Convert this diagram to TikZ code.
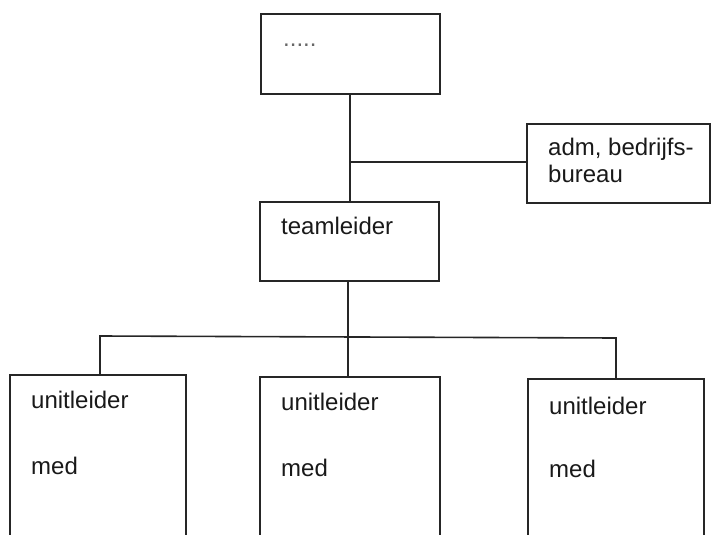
\documentclass[tikz,border=0pt]{standalone}
\usepackage{fontspec}
\setmainfont{Liberation Sans}
\begin{document}
\begin{tikzpicture}[x=1pt,y=-1pt,
  box/.style={draw=black!85, line width=1.6pt, rectangle, inner sep=0pt, outer sep=0pt, anchor=north west},
  lbl/.style={anchor=base west, inner sep=0pt, font=\fontsize{24}{28}\selectfont, text=black!90},
  wire/.style={draw=black!85, line width=1.6pt}]
\useasboundingbox (0,0) rectangle (712,535);
\clip (0,0) rectangle (712,535);
% boxes
\node[box, minimum width=179pt, minimum height=80pt] (top) at (261,14) {};
\node[box, minimum width=183pt, minimum height=79pt] (adm) at (527,124) {};
\node[box, minimum width=179pt, minimum height=79pt] (team) at (260,202) {};
\node[box, minimum width=176pt, minimum height=200pt] (u1) at (10,375) {};
\node[box, minimum width=180pt, minimum height=200pt] (u2) at (260,377) {};
\node[box, minimum width=176pt, minimum height=200pt] (u3) at (528,379) {};
% texts
\node[lbl, text=black!60] (ttop) at (283,47) {.....};
\node[lbl] (tadm1) at (548,155) {adm, bedrijfs-};
\node[lbl] (tadm2) at (548,182) {bureau};
\node[lbl] (tteam) at (281,234) {teamleider};
\node[lbl] (tu1a) at (31,408) {unitleider};
\node[lbl] (tu1b) at (31,474) {med};
\node[lbl] (tu2a) at (281,410) {unitleider};
\node[lbl] (tu2b) at (281,476) {med};
\node[lbl] (tu3a) at (549,414) {unitleider};
\node[lbl] (tu3b) at (549,477) {med};
% connectors
\coordinate (ja) at (350,162);
\coordinate (jm) at (348,337);
\coordinate (j1) at (100,336);
\coordinate (j3) at (616,338);
\draw[wire] (top.south -| ja) -- (team.north -| ja);
\draw[wire] (ja) -- (ja -| adm.west);
\draw[wire] (team.south -| jm) -- (u2.north -| jm);
\draw[wire] (j1 |- u1.north) -- (j1) -- (j3) -- (j3 |- u3.north);
\end{tikzpicture}
\end{document}
